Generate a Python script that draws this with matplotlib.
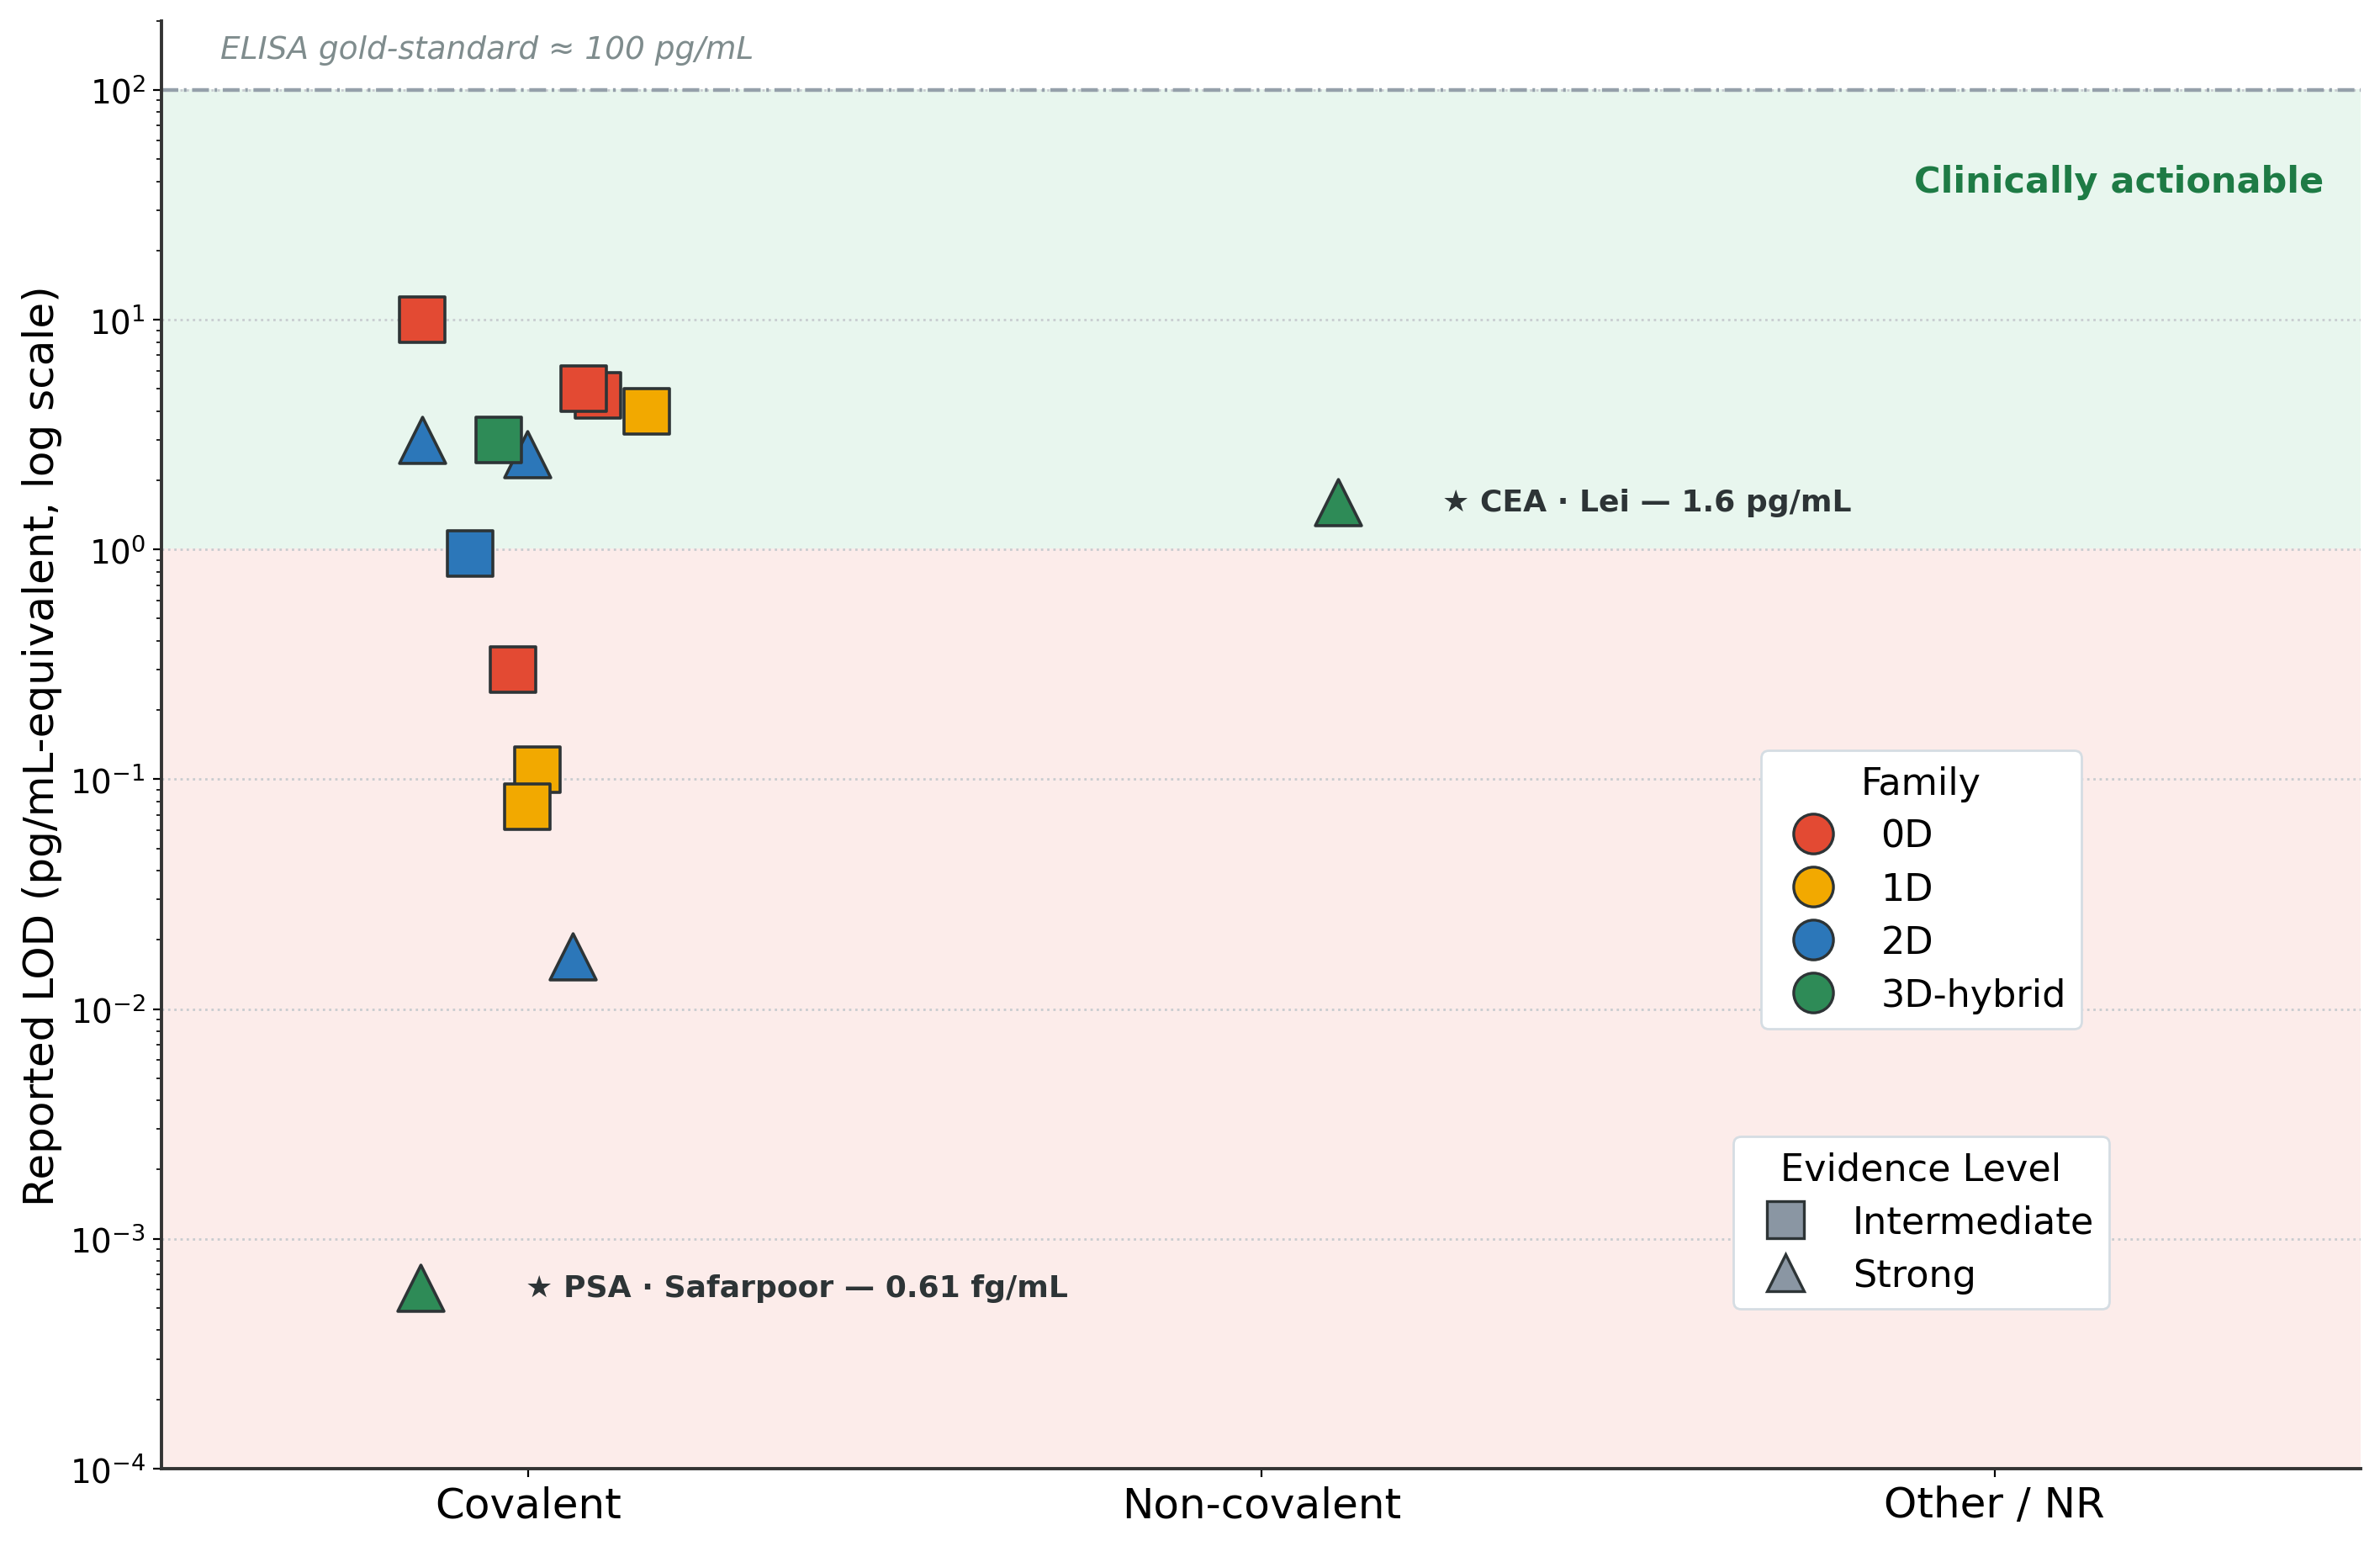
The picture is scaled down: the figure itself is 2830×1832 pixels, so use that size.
import matplotlib
matplotlib.use("Agg")
import matplotlib.pyplot as plt
from matplotlib.lines import Line2D
import numpy as np

# categories on the x axis
categories = ["Covalent", "Non-covalent", "Other / NR"]

# one entry per reported study
point_family = ["0D", "0D", "0D", "0D", "1D", "1D", "1D",
                "2D", "2D", "2D", "2D", "3D-hybrid", "3D-hybrid", "3D-hybrid"]
point_evidence = ["Intermediate", "Intermediate", "Intermediate", "Intermediate",
                  "Intermediate", "Intermediate", "Intermediate",
                  "Strong", "Strong", "Intermediate", "Strong",
                  "Intermediate", "Strong", "Strong"]
point_category = [0, 0, 0, 0, 0, 0, 0, 0, 0, 0, 0, 0, 0, 1]
point_jitter = [-0.145, 0.095, 0.075, -0.021, 0.162, 0.012, -0.002,
                -0.145, -0.002, -0.079, 0.06, -0.041, -0.147, 0.104]
point_lod = [10.0, 4.7, 5.0, 0.30, 4.0, 0.11, 0.076,
             3.0, 2.6, 0.96, 0.017, 3.0, 0.00061, 1.6]

families = ["0D", "1D", "2D", "3D-hybrid"]
family_colors = {"0D": "#e34a33", "1D": "#f2a900", "2D": "#2c77b9", "3D-hybrid": "#2e8b57"}
evidence_levels = ["Intermediate", "Strong"]
evidence_markers = {"Intermediate": "s", "Strong": "^"}

edge = "#2d3436"

fig, ax = plt.subplots(figsize=(14.15, 9.165), dpi=200)
fig.subplots_adjust(left=0.068, right=0.992, bottom=0.047, top=0.986)

ax.set_yscale("log")
ax.set_xlim(-0.5, 2.5)
ax.set_ylim(1e-4, 2e2)

# shaded regions
ax.axhspan(1, 100, color="#e8f6ee", zorder=0)
ax.axhspan(1e-4, 1, color="#fcecea", zorder=0)
ax.axhline(100, color="#95a0aa", lw=1.6, ls=(0, (4.5, 1.5, 0.7, 1.5)), zorder=1)

ax.grid(axis="y", which="major", ls=":", color="#c8ccd0", lw=1.0, zorder=1)
ax.set_axisbelow(True)

fam = np.array(point_family)
evi = np.array(point_evidence)
xs = np.array(point_category) + np.array(point_jitter)
ys = np.array(point_lod)
for f in families:
    for e in evidence_levels:
        m = (fam == f) & (evi == e)
        if m.any():
            ax.scatter(xs[m], ys[m], s=390, marker=evidence_markers[e],
                       c=family_colors[f], edgecolors=edge, linewidths=1.3, zorder=3)

# highlighted studies
ax.text(-0.147 + 0.143, 0.00061, "\u2605 PSA \u00b7 Safarpoor \u2014 0.61 fg/mL",
        fontsize=13, fontweight="bold", color="#2d3436", va="center", ha="left", zorder=4)
ax.text(1.104 + 0.143, 1.6, "\u2605 CEA \u00b7 Lei \u2014 1.6 pg/mL",
        fontsize=13, fontweight="bold", color="#2d3436", va="center", ha="left", zorder=4)

ax.text(0.983, 0.889, "Clinically actionable", transform=ax.transAxes,
        fontsize=15.5, fontweight="bold", color="#1e7b45", ha="right", va="center")
ax.text(-0.42, 150, "ELISA gold-standard \u2248 100 pg/mL", fontsize=13.5,
        style="italic", color="#7f8c8d", ha="left", va="center")

ax.set_xticks(range(len(categories)))
ax.set_xticklabels(categories, fontsize=18)
ax.tick_params(axis="y", labelsize=14)
ax.set_ylabel("Reported LOD (pg/mL-equivalent, log scale)", fontsize=18, labelpad=3)

for s in ["top", "right"]:
    ax.spines[s].set_visible(False)
for s in ["left", "bottom"]:
    ax.spines[s].set_color("#333333")
    ax.spines[s].set_linewidth(1.4)

fam_handles = [Line2D([], [], marker="o", ls="", markersize=17, markerfacecolor=family_colors[f],
                      markeredgecolor=edge, markeredgewidth=1.2, label=f) for f in families]
leg1 = ax.legend(handles=fam_handles, title="Family", loc="center", bbox_to_anchor=(0.80, 0.40),
                 fontsize=16, title_fontsize=16, frameon=True, framealpha=1,
                 edgecolor="#d5dde3", labelspacing=0.45, handletextpad=0.8, borderpad=0.4)
ax.add_artist(leg1)

ev_handles = [Line2D([], [], marker=evidence_markers[e], ls="", markersize=16,
                     markerfacecolor="#8a96a3", markeredgecolor=edge, markeredgewidth=1.2,
                     label=e) for e in evidence_levels]
ax.legend(handles=ev_handles, title="Evidence Level", loc="center", bbox_to_anchor=(0.80, 0.17),
          fontsize=16, title_fontsize=16, frameon=True, framealpha=1,
          edgecolor="#d5dde3", labelspacing=0.45, handletextpad=0.8, borderpad=0.4)

fig.savefig("out.png", dpi=200)
